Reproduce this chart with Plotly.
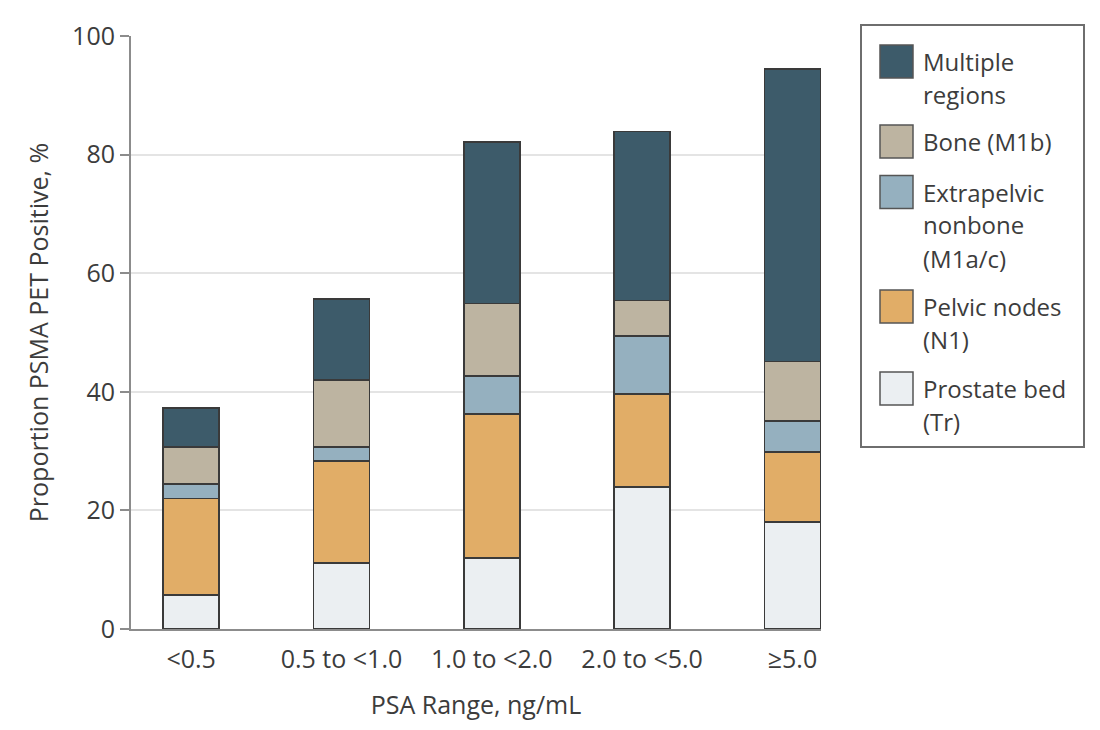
import plotly.graph_objects as go

# ---- data ----
categories = ["<0.5", "0.5 to <1.0", "1.0 to <2.0", "2.0 to <5.0", "≥5.0"]
prostate_bed = [5.7, 11.1, 12.0, 24.0, 18.1]
pelvic_nodes = [16.3, 17.2, 24.3, 15.6, 11.7]
extrapelvic = [2.4, 2.4, 6.4, 9.8, 5.3]
bone = [6.3, 11.3, 12.2, 6.0, 10.0]
multiple = [6.6, 13.6, 27.2, 28.5, 49.3]

series_values = [prostate_bed, pelvic_nodes, extrapelvic, bone, multiple]
series_names = ["Prostate bed (Tr)", "Pelvic nodes (N1)", "Extrapelvic nonbone (M1a/c)",
                "Bone (M1b)", "Multiple regions"]
series_colors = ["#ebeff2", "#e1ad67", "#95b0bf", "#bdb4a1", "#3d5b6a"]

# legend order (top to bottom) and line breaks
legend_order = [4, 3, 2, 1, 0]
legend_lines = {
    4: ["Multiple", "regions"],
    3: ["Bone (M1b)"],
    2: ["Extrapelvic", "nonbone", "(M1a/c)"],
    1: ["Pelvic nodes", "(N1)"],
    0: ["Prostate bed", "(Tr)"],
}

y_ticks = [0, 20, 40, 60, 80, 100]

TEXT = "#3c3c3c"
FONT = "Open Sans"

fig = go.Figure()
for vals, name, col in zip(series_values, series_names, series_colors):
    fig.add_trace(go.Bar(
        x=categories, y=vals, name=name,
        marker=dict(color=col, line=dict(color="#3a3a3a", width=1.8)),
        width=0.373, showlegend=False,
    ))

W, H = 1100, 730
ML, MR, MT, MB = 131, 279, 36, 101
PW, PH = W - ML - MR, H - MT - MB


def px(x):
    return (x - ML) / PW


def py(y):
    return 1 - (y - MT) / PH


shapes = []
annotations = []
# legend box
shapes.append(dict(type="rect", xref="paper", yref="paper",
                   x0=px(861), x1=px(1084), y0=py(25), y1=py(447),
                   line=dict(color="#6e6e6e", width=2), fillcolor="white"))
swatch_centers = [61.5, 141.5, 192, 306.5, 388.5]
for idx, cy in zip(legend_order, swatch_centers):
    shapes.append(dict(type="rect", xref="paper", yref="paper",
                       x0=px(880), x1=px(913), y0=py(cy - 16.5), y1=py(cy + 16.5),
                       line=dict(color="#555555", width=1.5),
                       fillcolor=series_colors[idx]))
    for k, line in enumerate(legend_lines[idx]):
        annotations.append(dict(xref="paper", yref="paper", x=px(921), y=py(cy + 33 * k),
                                xanchor="left", yanchor="middle", showarrow=False,
                                text=line, font=dict(family=FONT, size=24, color=TEXT)))

fig.update_layout(
    width=W, height=H,
    margin=dict(l=ML, r=MR, t=MT, b=MB, autoexpand=False),
    paper_bgcolor="white", plot_bgcolor="white",
    barmode="stack",
    font=dict(family=FONT, size=25, color=TEXT),
    shapes=shapes, annotations=annotations,
    xaxis=dict(type="category", range=[-0.4, 4.19], showgrid=False,
               showline=True, linecolor="#8c8c8c", linewidth=2,
               ticks="", tickfont=dict(size=25, color=TEXT), ticklabelstandoff=7,
               title=dict(text="PSA Range, ng/mL", font=dict(size=25, color=TEXT), standoff=22)),
    yaxis=dict(range=[0, 100], tickvals=y_ticks, showgrid=True, gridcolor="#e4e4e4", gridwidth=2,
               showline=True, linecolor="#8c8c8c", linewidth=2, zeroline=False,
               ticks="outside", ticklen=9, tickwidth=2, tickcolor="#8c8c8c",
               tickfont=dict(size=25, color=TEXT),
               title=dict(text="Proportion PSMA PET Positive, %", font=dict(size=25, color=TEXT),
                          standoff=16)),
)

fig.write_html("out.html")
